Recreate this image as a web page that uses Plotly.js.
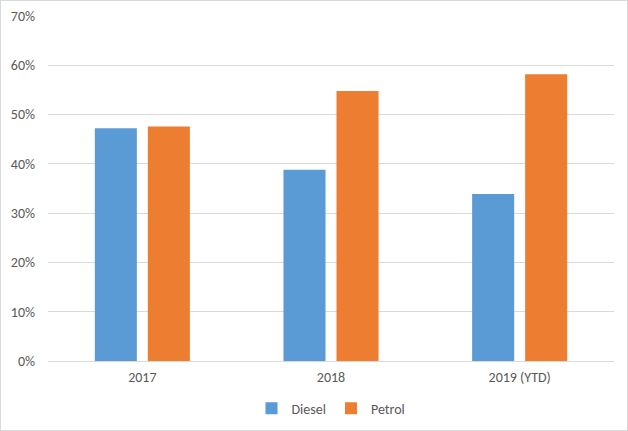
<!DOCTYPE html>
<html>
<head>
<meta charset="utf-8">
<script src="https://cdn.plot.ly/plotly-3.0.1.min.js"></script>
<style>
html,body{margin:0;padding:0;background:#fff;}
#chart{width:626px;height:429px;border:1px solid #D9D9D9;}
</style>
</head>
<body>
<div id="chart"></div>
<script>
const categories = ["2017", "2018", "2019 (YTD)"];
const diesel = [0.472, 0.388, 0.339];
const petrol = [0.476, 0.548, 0.582];
const tickVals = [0, 0.1, 0.2, 0.3, 0.4, 0.5, 0.6, 0.7];

const font = {family: "Carlito, 'Liberation Sans', 'DejaVu Sans', sans-serif", size: 14, color: "#595959"};

const data = [
  {type: "bar", name: "Diesel", x: categories, y: diesel, marker: {color: "#5B9BD5"}},
  {type: "bar", name: "Petrol", x: categories, y: petrol, marker: {color: "#ED7D31"}}
];

const layout = {
  width: 626, height: 429,
  margin: {l: 47, r: 13, t: 15, b: 69},
  paper_bgcolor: "#fff", plot_bgcolor: "#fff",
  font: font,
  barmode: "group",
  bargap: 0.438,
  bargroupgap: 0.207,
  showlegend: true,
  legend: {orientation: "h", x: 0.5, xanchor: "center", yref: "container", y: 0.05, yanchor: "middle", font: font, itemwidth: 30, tracegroupgap: 0},
  xaxis: {type: "category", tickfont: font, showgrid: false, zeroline: false, showline: false, ticks: "", ticklabelstandoff: 6},
  yaxis: {range: [0, 0.7], tickvals: tickVals, tickformat: ".0%", tickfont: font,
          gridcolor: "#D9D9D9", gridwidth: 1, zeroline: true, zerolinecolor: "#D9D9D9", zerolinewidth: 1,
          showline: false, ticks: "", ticklabelstandoff: 12}
};

Plotly.newPlot("chart", data, layout, {displayModeBar: false, staticPlot: true});
</script>
</body>
</html>
